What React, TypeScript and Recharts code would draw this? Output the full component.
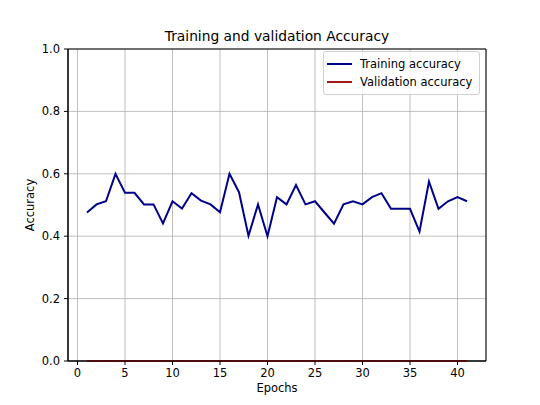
import React from "react";
import {
  LineChart,
  Line,
  XAxis,
  YAxis,
  CartesianGrid,
  Legend,
  ReferenceArea,
} from "recharts";

const epochs = [
  1, 2, 3, 4, 5, 6, 7, 8, 9, 10, 11, 12, 13, 14, 15, 16, 17, 18, 19, 20, 21,
  22, 23, 24, 25, 26, 27, 28, 29, 30, 31, 32, 33, 34, 35, 36, 37, 38, 39, 40,
  41,
];
const trainingAcc = [
  0.476, 0.502, 0.512, 0.6, 0.539, 0.539, 0.502, 0.502, 0.441, 0.512, 0.489,
  0.538, 0.514, 0.502, 0.477, 0.6, 0.541, 0.401, 0.502, 0.4, 0.525, 0.502,
  0.564, 0.502, 0.512, 0.476, 0.44, 0.502, 0.512, 0.502, 0.525, 0.538, 0.488,
  0.488, 0.488, 0.415, 0.575, 0.488, 0.512, 0.525, 0.512,
];
const validationAcc = [
  0, 0, 0, 0, 0, 0, 0, 0, 0, 0, 0, 0, 0, 0, 0, 0, 0, 0, 0, 0, 0, 0, 0, 0, 0,
  0, 0, 0, 0, 0, 0, 0, 0, 0, 0, 0, 0, 0, 0, 0, 0,
];
const xTicks = [0, 5, 10, 15, 20, 25, 30, 35, 40];
const yTicks = [0, 0.2, 0.4, 0.6, 0.8, 1.0];

const FONT = "'DejaVu Sans', sans-serif";
const TRAIN_COLOR = "#00008b";
const VAL_COLOR = "#a01818";

const data = epochs.map((e, i) => ({
  epoch: e,
  train: trainingAcc[i],
  val: validationAcc[i],
}));

function LegendBox() {
  const items = [
    { label: "Training accuracy", color: TRAIN_COLOR },
    { label: "Validation accuracy", color: VAL_COLOR },
  ];
  return (
    <div
      style={{
        border: "1px solid #d0d0d0",
        borderRadius: 3,
        background: "rgba(255,255,255,0.8)",
        padding: "3px 0 3px 3px",
        fontFamily: FONT,
        fontSize: 11.5,
        color: "#000",
      }}
    >
      {items.map((it) => (
        <div
          key={it.label}
          style={{ display: "flex", alignItems: "center", height: 18 }}
        >
          <span
            style={{
              display: "inline-block",
              width: 25,
              height: 2,
              background: it.color,
              marginRight: 8,
            }}
          />
          {it.label}
        </div>
      ))}
    </div>
  );
}

export default function App() {
  return (
    <div
      style={{
        position: "absolute",
        left: 0,
        top: 0,
        width: 540,
        height: 405,
        background: "#fff",
        fontFamily: FONT,
      }}
    >
      <div
        style={{
          position: "absolute",
          left: 0,
          width: 554,
          top: 29,
          textAlign: "center",
          fontSize: 13.8,
          lineHeight: "14px",
          color: "#000",
        }}
      >
        Training and validation Accuracy
      </div>
      <LineChart
        width={540}
        height={405}
        data={data}
        margin={{ top: 49, right: 54, bottom: 4, left: 28 }}
        style={{ fontFamily: FONT }}
      >
        <CartesianGrid stroke="#b0b0b0" strokeWidth={0.8} />
        <XAxis
          dataKey="epoch"
          type="number"
          domain={[-1, 43]}
          ticks={xTicks}
          height={40}
          tickSize={4}
          tickMargin={4}
          axisLine={{ stroke: "#000" }}
          tickLine={{ stroke: "#000" }}
          tick={{ fill: "#000", fontSize: 11.5 }}
          label={{
            value: "Epochs",
            position: "insideBottom",
            offset: 9,
            fill: "#000",
            fontSize: 11.5,
          }}
        />
        <YAxis
          type="number"
          domain={[0, 1]}
          ticks={yTicks}
          width={40}
          tickSize={4}
          tickMargin={4}
          tickFormatter={(v: number) => v.toFixed(1)}
          axisLine={{ stroke: "#000" }}
          tickLine={{ stroke: "#000" }}
          tick={{ fill: "#000", fontSize: 11.5 }}
          label={{
            value: "Accuracy",
            angle: -90,
            position: "insideLeft",
            offset: 1.5,
            fill: "#000",
            fontSize: 11.5,
            style: { textAnchor: "middle" },
          }}
        />
        <ReferenceArea
          x1={-1}
          x2={43}
          y1={0}
          y2={1}
          fill="none"
          stroke="#000"
          strokeWidth={1}
        />
        <Legend
          layout="vertical"
          align="center"
          verticalAlign="middle"
          wrapperStyle={{ left: 323, top: 51, width: 157, bottom: "auto" }}
          content={() => <LegendBox />}
        />
        <Line
          dataKey="train"
          stroke={TRAIN_COLOR}
          strokeWidth={2}
          dot={false}
          isAnimationActive={false}
        />
        <Line
          dataKey="val"
          stroke={VAL_COLOR}
          strokeWidth={2}
          dot={false}
          isAnimationActive={false}
        />
      </LineChart>
    </div>
  );
}
